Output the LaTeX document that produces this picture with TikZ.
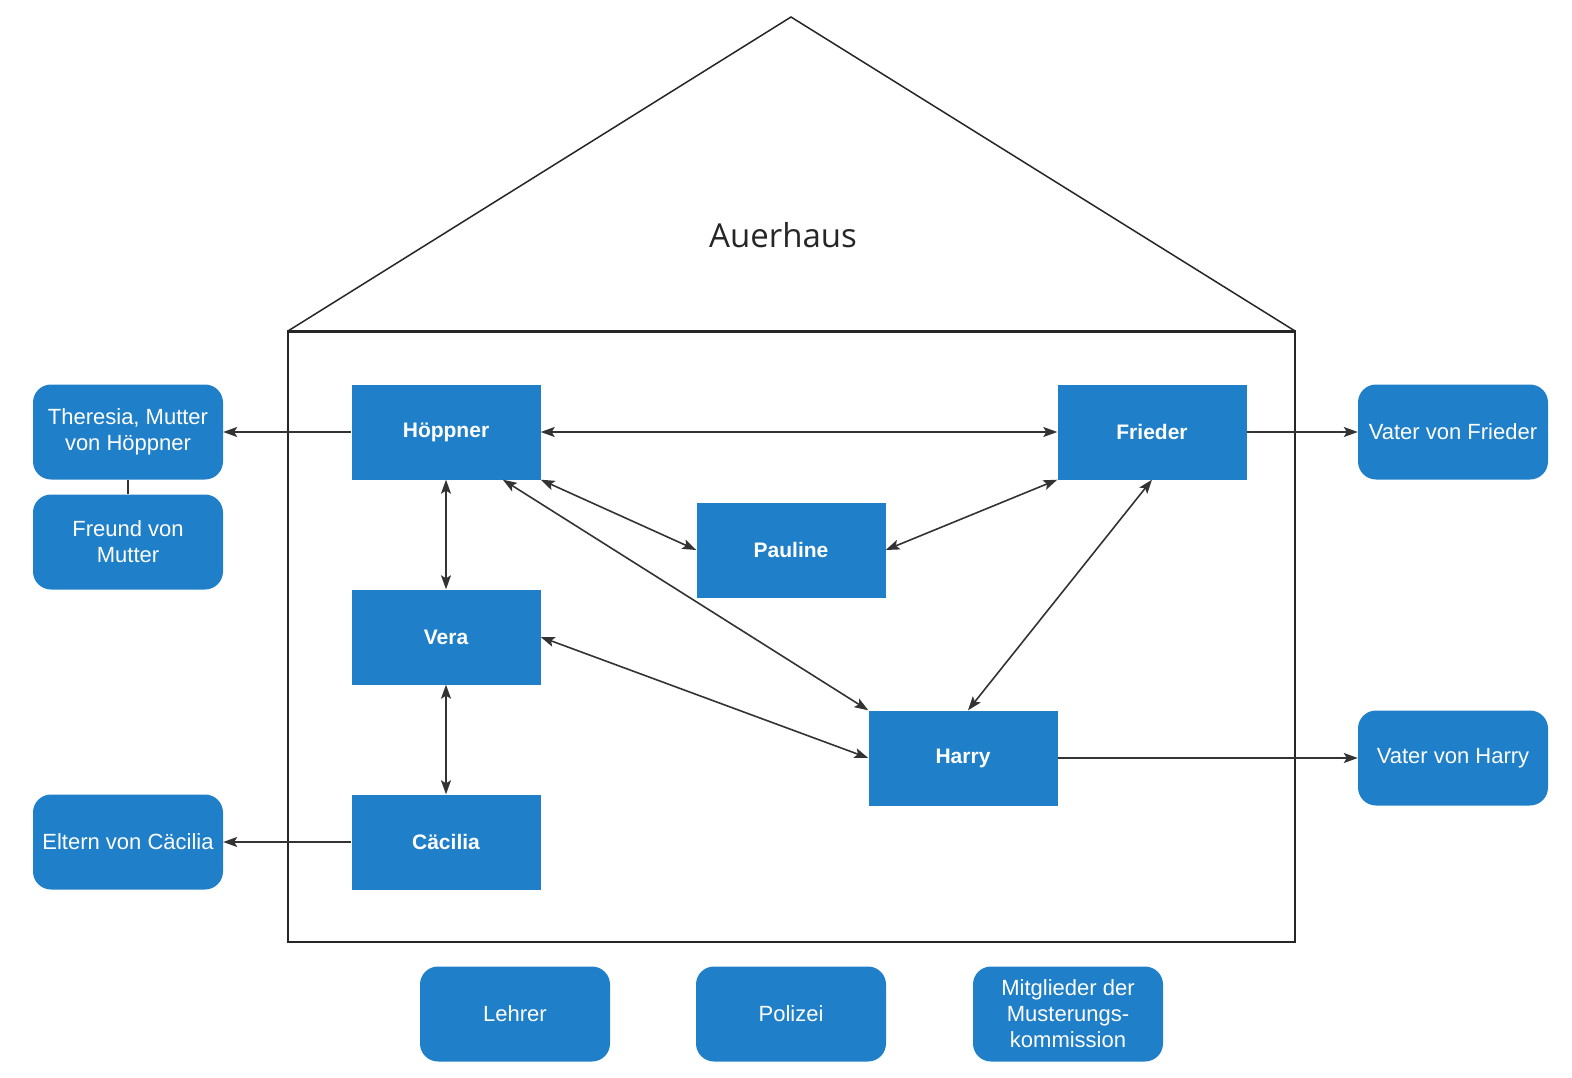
\documentclass[tikz,border=0pt]{standalone}
\usepackage{fontspec}
\setmainfont{Liberation Sans}
\newfontfamily\rooffont{Open Sans}
\usetikzlibrary{arrows.meta,positioning}
\definecolor{boxblue}{HTML}{1F7FC8}
\definecolor{linegray}{HTML}{333333}
\tikzset{
  figbox/.style={fill=boxblue, text=white, align=center, minimum width=189pt, minimum height=95pt, inner sep=2pt, font=\bfseries\fontsize{21}{26}\selectfont},
  extbox/.style={fill=boxblue, text=white, rounded corners=18pt, align=center, minimum width=190pt, minimum height=95pt, inner sep=2pt, font=\fontsize{22}{26}\selectfont},
  relboth/.style={{Stealth[length=14pt,width=10pt,inset=3pt]}-{Stealth[length=14pt,width=10pt,inset=3pt]}, draw=linegray, line width=1.6pt},
  relto/.style={-{Stealth[length=14pt,width=10pt,inset=3pt]}, draw=linegray, line width=1.6pt},
  relline/.style={draw=linegray, line width=1.6pt},
  wall/.style={draw=black!85, line width=2pt}
}

\begin{document}
\begin{tikzpicture}[x=1pt,y=-1pt]
\useasboundingbox (0,0) rectangle (1572,1078);
% house
\draw[wall, line width=1.5pt] (288,331) -- (791,17) -- (1295,331);
\draw[wall] (288,331) rectangle (1295,942);
\draw[wall, line width=3pt] (288,331) -- (1295,331);
\node[font=\rooffont\fontsize{33}{40}\selectfont, text=black!85] (auerhaus) at (783,235) {Auerhaus};
% people in the house
\node[figbox] (hoeppner) at (446,432) {Höppner};
\node[figbox] (frieder) at (1152,432) {Frieder};
\node[figbox] (pauline) at (791,550) {Pauline};
\node[figbox] (vera) at (446,637) {Vera};
\node[figbox] (harry) at (963,758) {Harry};
\node[figbox] (caecilia) at (446,842) {Cäcilia};
% people outside
\node[extbox] (theresia) at (128,432) {Theresia, Mutter\\von Höppner};
\node[extbox] (freund) at (128,542) {Freund von\\Mutter};
\node[extbox] (eltern) at (128,842) {Eltern von Cäcilia};
\node[extbox] (vaterfrieder) at (1453,432) {Vater von Frieder};
\node[extbox] (vaterharry) at (1453,758) {Vater von Harry};
\node[extbox] (lehrer) at (515,1014) {Lehrer};
\node[extbox] (polizei) at (791,1014) {Polizei};
\node[extbox] (kommission) at (1068,1014) {Mitglieder der\\Musterungs-\\kommission};
% relations
\draw[relto] (hoeppner) -- (theresia);
\draw[relline] (theresia) -- (freund);
\draw[relboth] (hoeppner) -- (frieder);
\draw[relboth] (hoeppner.south east) -- (pauline.west);
\draw[relboth] (frieder.south west) -- (pauline.east);
\draw[relboth] (hoeppner.-40) -- (harry.north west);
\draw[relboth] (frieder.south) -- (harry.84);
\draw[relboth] (hoeppner) -- (vera);
\draw[relboth] (vera.east) -- (harry.west);
\draw[relboth] (vera) -- (caecilia);
\draw[relto] (caecilia) -- (eltern);
\draw[relto] (frieder) -- (vaterfrieder);
\draw[relto] (harry) -- (vaterharry);
\end{tikzpicture}
\end{document}
